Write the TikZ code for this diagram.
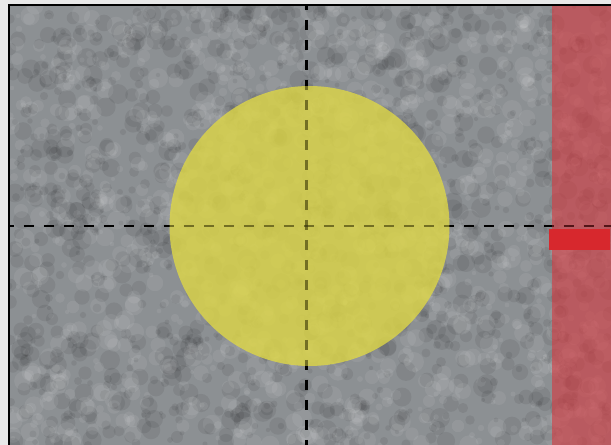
\documentclass[tikz,border=0pt]{standalone}
\usepackage{xcolor}
\definecolor{bgmargin}{RGB}{232,232,232}
\definecolor{concrete}{RGB}{140,144,147}
\definecolor{sunyellow}{RGB}{222,215,70}
\definecolor{stripred}{RGB}{216,55,62}
\definecolor{markred}{RGB}{215,40,45}
\usetikzlibrary{calc}

% crosshair through the centre of the field
\newcommand{\crosshair}[1]{%
  \draw[axisline, opacity=#1] (306.5,5) -- (306.5,445);
  \draw[axisline, opacity=#1] (9,226) -- (611,226);
}

\begin{document}
\begin{tikzpicture}[
    x=0.02cm, y=-0.02cm,
    axisline/.style={black, line width=0.05cm, dash pattern=on 0.2cm off 0.2cm, dash phase=0.1cm},
    speck/.style={opacity=0.07}
  ]
    \useasboundingbox (0,0) rectangle (611,445);

    % Margin and concrete field
    \fill[bgmargin] (0,0) rectangle (611,445);
    \fill[concrete] (9,5) rectangle (611,445);

    % Concrete texture
    \begin{scope}
      \clip (9,5) rectangle (611,445);
      \pgfmathsetseed{42}
      \foreach \i in {1,...,1300} {
        \pgfmathsetmacro{\px}{random(9,611)}
        \pgfmathsetmacro{\py}{random(5,445)}
        \pgfmathsetmacro{\pr}{0.04+0.16*rnd}
        \fill[black, speck] (\px,\py) circle (\pr cm);
      }
      \foreach \i in {1,...,1300} {
        \pgfmathsetmacro{\px}{random(9,611)}
        \pgfmathsetmacro{\py}{random(5,445)}
        \pgfmathsetmacro{\pr}{0.04+0.16*rnd}
        \fill[white, speck] (\px,\py) circle (\pr cm);
      }
    \end{scope}

    % Crosshair (under the overlays)
    \crosshair{1}

    % Yellow disc
    \fill[sunyellow, opacity=0.8] (309.5,226) circle (2.8cm);

    % Red strip on the right
    \fill[stripred, opacity=0.6] (552,5) rectangle (611,445);

    % Crosshair seen through the overlays
    \crosshair{0.35}

    % Red marker
    \fill[markred] (549,229) rectangle (610,250);

    % Frame
    \draw[black, line width=0.055cm] (9,445) -- (9,5) -- (611,5);
  \end{tikzpicture}
\end{document}
